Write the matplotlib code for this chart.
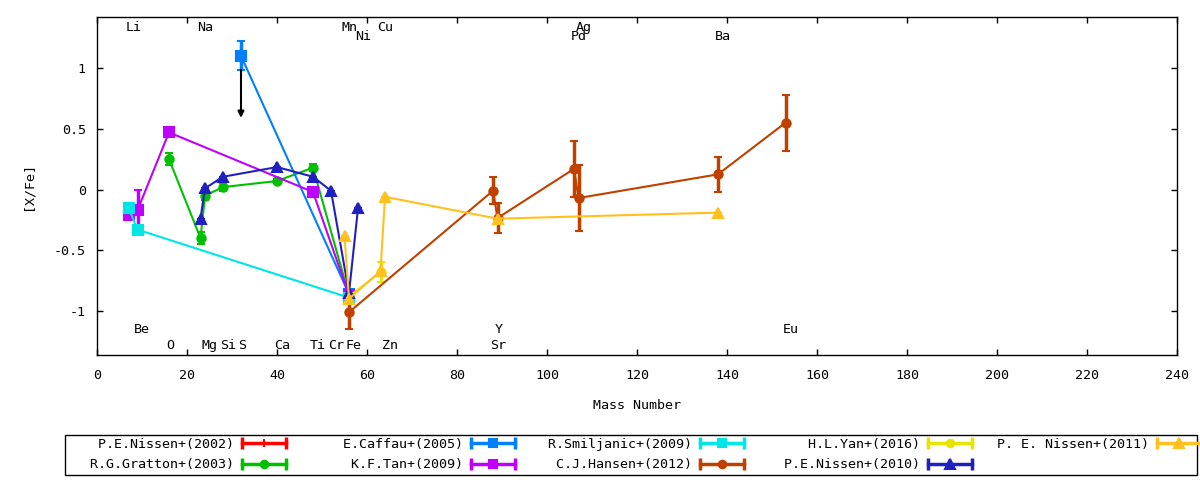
import numpy as np
import matplotlib
matplotlib.use("Agg")
import matplotlib.pyplot as plt
from matplotlib.lines import Line2D
from matplotlib.patches import Rectangle
from matplotlib.legend_handler import HandlerLine2D

plt.rcParams['font.family'] = ['DejaVu Sans Mono']
plt.rcParams['font.size'] = 9.6
plt.rcParams['axes.unicode_minus'] = False

# mass number, [X/Fe], error for every paper
nissen02_x = [56]
nissen02_y = [-0.88]
nissen02_e = [0.0]

gratton03_x = [16, 23, 24, 28, 40, 48, 56]
gratton03_y = [0.25, -0.40, -0.05, 0.02, 0.07, 0.18, -0.87]
gratton03_e = [0.05, 0.05, 0.04, 0.03, 0.02, 0.03, 0.02]

caffau05_x = [32, 56]
caffau05_y = [1.10, -0.86]
caffau05_e = [0.12, 0.0]

tan09_x = [7, 9, 16, 48, 56]
tan09_y = [-0.21, -0.17, 0.47, -0.02, -0.87]
tan09_e = [0.0, 0.17, 0.0, 0.0, 0.0]

smiljanic09_x = [7, 9, 56]
smiljanic09_y = [-0.15, -0.33, -0.89]
smiljanic09_e = [0.0, 0.0, 0.0]

hansen12_x = [56, 88, 89, 106, 107, 138, 153]
hansen12_y = [-1.01, -0.01, -0.235, 0.17, -0.07, 0.125, 0.55]
hansen12_e = [0.14, 0.11, 0.125, 0.23, 0.27, 0.145, 0.23]

yan16_x = [56, 63]
yan16_y = [-0.88, -0.68]
yan16_e = [0.02, 0.08]

nissen10_x = [23, 24, 28, 40, 48, 52, 56, 58]
nissen10_y = [-0.24, 0.01, 0.105, 0.185, 0.105, -0.01, -0.85, -0.155]
nissen10_e = [0, 0, 0, 0, 0, 0, 0, 0]

nissen11_x = [55, 56, 63, 64, 89, 138]
nissen11_y = [-0.38, -0.90, -0.67, -0.06, -0.24, -0.19]
nissen11_e = [0, 0, 0, 0, 0, 0]

# element labels: name, mass, row (top1, top2, bot1, bot2)
elem_names = ['Li', 'Na', 'Mn', 'Cu', 'Ag', 'Ni', 'Pd', 'Ba',
              'Be', 'Y', 'Eu', 'O', 'Mg', 'Si', 'S', 'Ca', 'Ti', 'Cr', 'Fe', 'Zn', 'Sr']
elem_mass = [7, 23, 55, 63, 107, 58, 106, 138,
             9, 89, 153, 16, 24, 28, 32, 40, 48, 52, 56, 64, 88]
elem_ypos = [1.335] * 5 + [1.258] * 3 + [-1.156] * 3 + [-1.28] * 10

series = [
    ('P.E.Nissen+(2002)', nissen02_x, nissen02_y, nissen02_e, '#ff0000', '+', 7),
    ('R.G.Gratton+(2003)', gratton03_x, gratton03_y, gratton03_e, '#00c000', 'o', 6),
    ('E.Caffau+(2005)', caffau05_x, caffau05_y, caffau05_e, '#0080ff', 's', 6.5),
    ('K.F.Tan+(2009)', tan09_x, tan09_y, tan09_e, '#c000ff', 's', 6.5),
    ('R.Smiljanic+(2009)', smiljanic09_x, smiljanic09_y, smiljanic09_e, '#00e5e5', 's', 6.5),
    ('C.J.Hansen+(2012)', hansen12_x, hansen12_y, hansen12_e, '#c04000', 'o', 6),
    ('H.L.Yan+(2016)', yan16_x, yan16_y, yan16_e, '#e5e500', 'o', 6),
    ('P.E.Nissen+(2010)', nissen10_x, nissen10_y, nissen10_e, '#2020c0', '^', 7.5),
    ('P. E. Nissen+(2011)', nissen11_x, nissen11_y, nissen11_e, '#ffc020', '^', 7.5),
]

fig = plt.figure(figsize=(12, 4.8), dpi=100)
ax = fig.add_axes([97 / 1200, 1 - 355 / 480, 1080 / 1200, 338 / 480])

handles = []
hmap = {}
for label, x, y, e, c, m, ms in series:
    ax.errorbar(x, y, yerr=e, color=c, lw=1.5, marker=m, ms=ms, mew=1.5,
                elinewidth=2.5, capsize=3, capthick=2.5)
    bar = Line2D([], [], color=c, lw=2.5, marker='|', ms=9, mew=2.5)
    pt = Line2D([], [], color=c, lw=0, marker=m, ms=ms * 0.9, mew=1.5)
    hmap[bar] = HandlerLine2D(numpoints=2, marker_pad=0)
    hmap[pt] = HandlerLine2D(numpoints=1)
    handles.append((bar, pt))

# upper limit arrow for Caffau S
ax.annotate('', xy=(32, 0.59), xytext=(32, 0.985),
            arrowprops=dict(arrowstyle='-|>', color='k', lw=1.5,
                            mutation_scale=9, shrinkA=0, shrinkB=0))

for name, mass, yy in zip(elem_names, elem_mass, elem_ypos):
    ax.text(mass - 0.7, yy, name, ha='left', va='center')

ax.set_xlim(0, 240)
ax.set_ylim(-1.362, 1.42)
ax.set_xticks(np.arange(0, 241, 20))
ax.set_yticks([-1, -0.5, 0, 0.5, 1])
ax.set_yticklabels(['-1', '-0.5', '0', '0.5', '1'])
ax.tick_params(direction='in', length=4, width=1, top=True, right=True)
ax.tick_params(axis='x', pad=10)
ax.tick_params(axis='y', pad=8)
for sp in ax.spines.values():
    sp.set_linewidth(1)
ax.set_xlabel('Mass Number', labelpad=12)
ax.set_ylabel('[X/Fe]', labelpad=14)

labels = [s[0].rjust(19) for s in series]
fig.legend(handles, labels, handler_map=hmap, ncol=5, markerfirst=False,
           frameon=False, loc='upper left', bbox_to_anchor=(82 / 1200, 1 - 438 / 480),
           borderpad=0, borderaxespad=0, handlelength=3.3, handletextpad=0.6,
           columnspacing=1.86, labelspacing=0.55)
fig.patches.append(Rectangle((65 / 1200, 1 - 475 / 480), 1132 / 1200, 40 / 480,
                             transform=fig.transFigure, fill=False, ec='k', lw=1))

fig.savefig('out.png', dpi=100)
